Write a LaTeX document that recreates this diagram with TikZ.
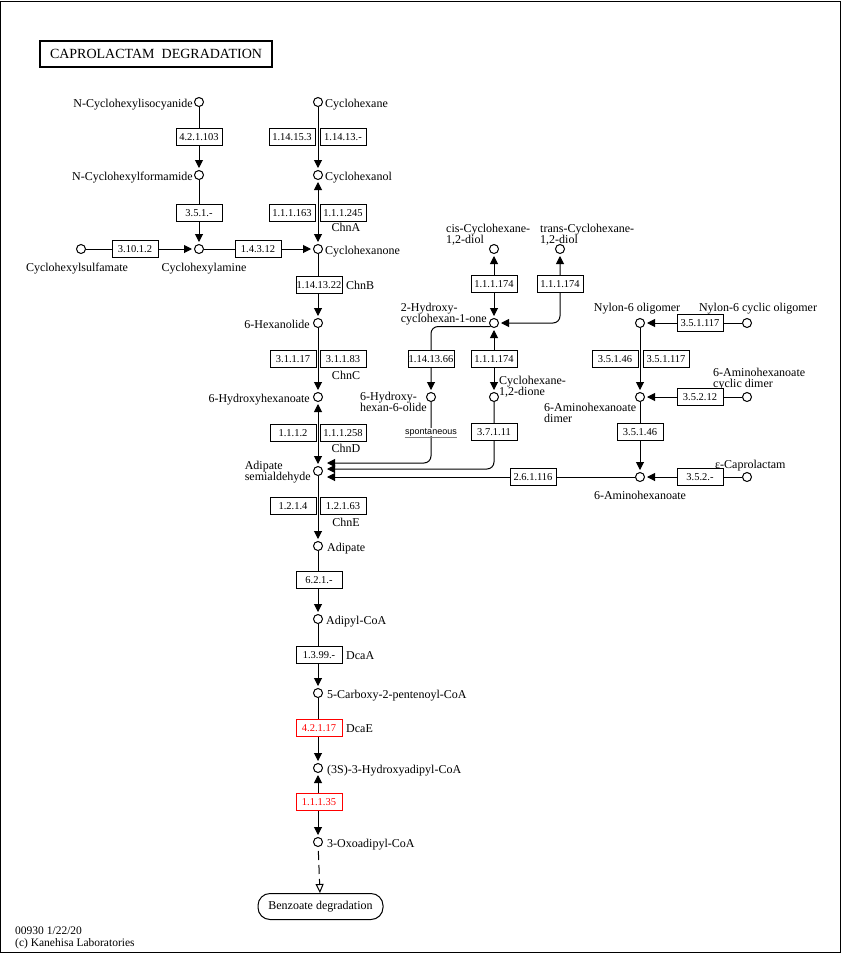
\documentclass[tikz,border=0pt]{standalone}
\usepackage{fontspec}
\setmainfont{Liberation Serif}
\newfontfamily\spfont{Liberation Sans}
\usetikzlibrary{arrows.meta,backgrounds}
\newcommand\twol[2]{\begin{tabular}[t]{@{}l@{}}#1\\#2\end{tabular}}
\begin{document}
\begin{tikzpicture}[x=1pt,y=-1pt,
  cpd/.style={circle,draw,fill=white,line width=1pt,minimum size=9pt,inner sep=0pt},
  ec/.style={draw,fill=white,line width=0.9pt,minimum width=46pt,minimum height=17pt,inner sep=0pt,font=\fontsize{10.5}{12}\selectfont},
  ecr/.style={ec,draw=red,text=red},
  lbl/.style={inner sep=0pt,font=\fontsize{12}{11}\selectfont},
  conn/.style={line width=1pt},
  arr/.style={conn,-{Triangle[length=8pt,width=8pt]},shorten >=2pt},
  rev/.style={conn,{Triangle[length=8pt,width=8pt]}-{Triangle[length=8pt,width=8pt]},shorten >=2pt,shorten <=2pt},
  openarr/.style={conn,dash pattern=on 9pt off 5pt,dash phase=-4pt,-{Triangle[open,length=9pt,width=8pt]}}
]
\useasboundingbox (0,0) rectangle (841,954);
\draw[line width=1pt] (0.5,1) rectangle (840.5,952.5);

% title
\node[draw,line width=2pt,minimum width=232pt,minimum height=26pt,inner sep=0pt,font=\fontsize{14}{14}\selectfont] (title) at (156,54) {CAPROLACTAM\ \ DEGRADATION};

% compounds
\node[cpd] (nci) at (199,102) {};
\node[cpd] (chx) at (318,102) {};
\node[cpd] (ncf) at (199,175) {};
\node[cpd] (chol) at (318,175) {};
\node[cpd] (csf) at (81,249) {};
\node[cpd] (cha) at (199,249) {};
\node[cpd] (chone) at (318,249) {};
\node[cpd] (hxl) at (318,323) {};
\node[cpd] (hhx) at (318,397) {};
\node[cpd] (asa) at (318,471) {};
\node[cpd] (adp) at (318,546) {};
\node[cpd] (adc) at (318,619) {};
\node[cpd] (cpc) at (318,693) {};
\node[cpd] (hac) at (318,768) {};
\node[cpd] (oac) at (318,842) {};
\node[cpd] (cis) at (494,249) {};
\node[cpd] (trans) at (560,249) {};
\node[cpd] (hco) at (494,323) {};
\node[cpd] (olide) at (431,397) {};
\node[cpd] (dione) at (494,397) {};
\node[cpd] (nyo) at (640,323) {};
\node[cpd] (nyc) at (747,323) {};
\node[cpd] (dim) at (640,397) {};
\node[cpd] (cdim) at (747,397) {};
\node[cpd] (ahx) at (640,477) {};
\node[cpd] (cap) at (747,477) {};
\node[draw,line width=1pt,rounded corners=12pt,minimum width=125pt,minimum height=26pt,inner sep=0pt,font=\fontsize{12}{12}\selectfont] (bz) at (320.5,906.5) {Benzoate degradation};

% compound labels
\node[lbl,anchor=base east] (l1) at (193,107) {N-Cyclohexylisocyanide};
\node[lbl,anchor=base west] (l2) at (325,107) {Cyclohexane};
\node[lbl,anchor=base east] (l3) at (193,180) {N-Cyclohexylformamide};
\node[lbl,anchor=base west] (l4) at (325,180) {Cyclohexanol};
\node[lbl,anchor=base] (l5) at (77,271) {Cyclohexylsulfamate};
\node[lbl,anchor=base] (l6) at (204,271) {Cyclohexylamine};
\node[lbl,anchor=base west] (l7) at (325,254) {Cyclohexanone};
\node[lbl,anchor=base east] (l8) at (310,328) {6-Hexanolide};
\node[lbl,anchor=base east] (l9) at (310,402) {6-Hydroxyhexanoate};
\node[lbl,anchor=base east] (l10) at (311,469) {\twol{Adipate}{semialdehyde}};
\node[lbl,anchor=base west] (l11) at (327,551) {Adipate};
\node[lbl,anchor=base west] (l12) at (326,624) {Adipyl-CoA};
\node[lbl,anchor=base west] (l13) at (327,698) {5-Carboxy-2-pentenoyl-CoA};
\node[lbl,anchor=base west] (l14) at (327,773) {(3S)-3-Hydroxyadipyl-CoA};
\node[lbl,anchor=base west] (l15) at (327,847) {3-Oxoadipyl-CoA};
\node[lbl,anchor=base east] (l16) at (487,311) {\twol{2-Hydroxy-}{cyclohexan-1-one}};
\node[lbl,anchor=base west] (l17) at (446,232) {\twol{cis-Cyclohexane-}{1,2-diol}};
\node[lbl,anchor=base west] (l18) at (540,232) {\twol{trans-Cyclohexane-}{1,2-diol}};
\node[lbl,anchor=base west] (l19) at (499,384) {\twol{Cyclohexane-}{1,2-dione}};
\node[lbl,anchor=base east] (l20) at (427,400) {\twol{6-Hydroxy-}{hexan-6-olide}};
\node[lbl,anchor=base] (l21) at (637,311) {Nylon-6 oligomer};
\node[lbl,anchor=base] (l22) at (758,311) {Nylon-6 cyclic oligomer};
\node[lbl,anchor=base west] (l23) at (713,376) {\twol{6-Aminohexanoate}{cyclic dimer}};
\node[lbl,anchor=base west] (l24) at (544,411) {\twol{6-Aminohexanoate}{dimer}};
\node[lbl,anchor=base west] (l25) at (715,468) {ε-Caprolactam};
\node[lbl,anchor=base] (l26) at (640,499) {6-Aminohexanoate};

% spontaneous
\node[inner sep=0.5pt,fill=white,anchor=base,font=\spfont\fontsize{9}{10}\selectfont] (sp) at (431,434) {spontaneous};
\draw[gray,line width=0.8pt] ([yshift=-1pt]sp.south west) -- ([yshift=-1pt]sp.south east);

% enzymes
\node[ec] (e1) at (199,137) {4.2.1.103};
\node[ec] (e2) at (292,137) {1.14.15.3};
\node[ec] (e3) at (343,137) {1.14.13.-};
\node[ec] (e4) at (199,213) {3.5.1.-};
\node[ec] (e5) at (292,213) {1.1.1.163};
\node[ec] (e6) at (343,213) {1.1.1.245};
\node[ec] (e7) at (135,249) {3.10.1.2};
\node[ec] (e8) at (258,249) {1.4.3.12};
\node[ec] (e9) at (319,285) {1.14.13.22};
\node[ec] (e10) at (293,359) {3.1.1.17};
\node[ec] (e11) at (343,359) {3.1.1.83};
\node[ec] (e12) at (293,433) {1.1.1.2};
\node[ec] (e13) at (343,433) {1.1.1.258};
\node[ec] (e14) at (293,506) {1.2.1.4};
\node[ec] (e15) at (343,506) {1.2.1.63};
\node[ec] (e16) at (319,580) {6.2.1.-};
\node[ec] (e17) at (319,655) {1.3.99.-};
\node[ecr] (e18) at (319,728) {4.2.1.17};
\node[ecr] (e19) at (319,802) {1.1.1.35};
\node[ec] (e20) at (494,284) {1.1.1.174};
\node[ec] (e21) at (560,284) {1.1.1.174};
\node[ec] (e22) at (431,359) {1.14.13.66};
\node[ec] (e23) at (494,359) {1.1.1.174};
\node[ec] (e24) at (494,432) {3.7.1.11};
\node[ec] (e25) at (533,477) {2.6.1.116};
\node[ec] (e26) at (700,323) {3.5.1.117};
\node[ec] (e27) at (615,359) {3.5.1.46};
\node[ec] (e28) at (666,359) {3.5.1.117};
\node[ec] (e29) at (700,397) {3.5.2.12};
\node[ec] (e30) at (640,432) {3.5.1.46};
\node[ec] (e31) at (700,477) {3.5.2.-};

% gene labels
\node[lbl,anchor=base] (g1) at (346,231) {ChnA};
\node[lbl,anchor=base west] (g2) at (346,289) {ChnB};
\node[lbl,anchor=base] (g3) at (346,379) {ChnC};
\node[lbl,anchor=base] (g4) at (346,452) {ChnD};
\node[lbl,anchor=base] (g5) at (346,526) {ChnE};
\node[lbl,anchor=base west] (g6) at (346,659) {DcaA};
\node[lbl,anchor=base west] (g7) at (346,732) {DcaE};

% footer
\node[lbl,anchor=base west,font=\fontsize{11.5}{11}\selectfont] (f1) at (15,934) {00930 1/22/20};
\node[lbl,anchor=base west,font=\fontsize{11.5}{11}\selectfont] (f2) at (15,946) {(c) Kanehisa Laboratories};

\coordinate (a1) at ([shift={(2pt,8pt)}]asa.east);
\coordinate (a2) at ([shift={(2pt,2pt)}]asa.east);
\coordinate (a3) at ([shift={(2pt,-6pt)}]asa.east);

\begin{pgfonlayer}{background}
\draw[arr] (nci) -- (ncf);
\draw[arr] (ncf) -- (cha);
\draw[arr] (csf) -- (cha);
\draw[arr] (cha) -- (chone);
\draw[arr] (chx) -- (chol);
\draw[rev] (chol) -- (chone);
\draw[arr] (chone) -- (hxl);
\draw[arr] (hxl) -- (hhx);
\draw[rev] (hhx) -- (asa);
\draw[arr] (asa) -- (adp);
\draw[arr] (adp) -- (adc);
\draw[arr] (adc) -- (cpc);
\draw[arr] (cpc) -- (hac);
\draw[rev] (hac) -- (oac);
\draw[openarr] (oac) -- (bz);
\draw[rev] (hco) -- (cis);
\draw[rev,rounded corners=7pt] (hco) -| (trans);
\draw[rev] (hco) -- (dione);
\draw[arr,rounded corners=7pt] (hco.south west) -| (olide);
\draw[arr,rounded corners=7pt] (olide) |- (a1);
\draw[arr,rounded corners=7pt] (dione) |- (a2);
\draw[arr] (ahx.west) -- (a3);
\draw[arr] (nyc) -- (nyo);
\draw[arr] (nyo) -- (dim);
\draw[arr] (cdim) -- (dim);
\draw[arr] (dim) -- (ahx);
\draw[arr] (cap) -- (ahx);
\end{pgfonlayer}
\end{tikzpicture}
\end{document}
